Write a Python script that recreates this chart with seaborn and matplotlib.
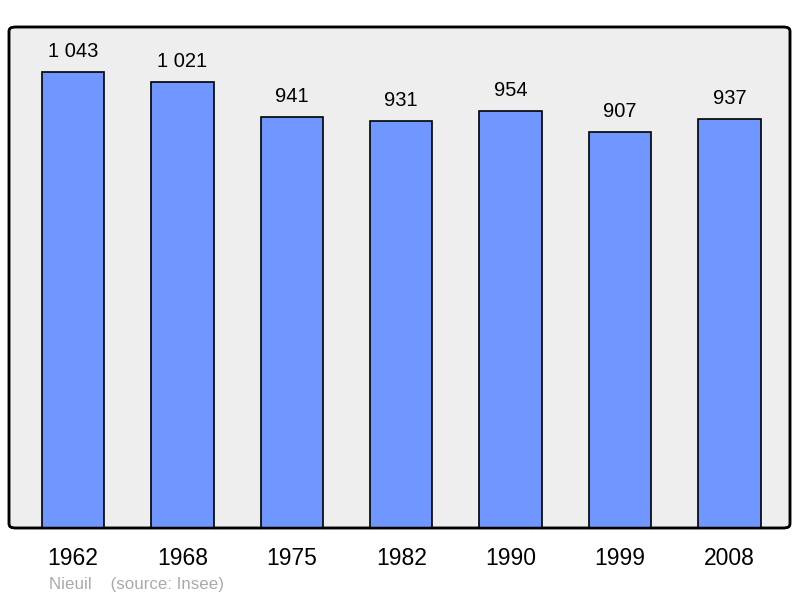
import matplotlib
matplotlib.use("Agg")
import matplotlib.pyplot as plt
from matplotlib.patches import FancyBboxPatch
import seaborn as sns
import pandas as pd

YEARS = ["1962", "1968", "1975", "1982", "1990", "1999", "2008"]
POPULATION = [1043, 1021, 941, 931, 954, 907, 937]
TITLE = "Nieuil    (source: Insee)"

BAR_COLOR = "#7096ff"
BG_COLOR = "#eeeeee"

sns.set_style("white")
plt.rcParams["font.family"] = ["Liberation Sans", "DejaVu Sans"]
plt.rcParams["text.color"] = "black"
plt.rcParams["xtick.color"] = "black"

df = pd.DataFrame({"year": YEARS, "pop": POPULATION})

fig = plt.figure(figsize=(8, 5.98), dpi=100)
ax = fig.add_axes([9 / 800, 70 / 598, 781 / 800, 501 / 598])

sns.barplot(data=df, x="year", y="pop", color=BAR_COLOR, edgecolor="black",
            linewidth=1.2, width=0.57, saturation=1, ax=ax)

# label with a space as thousands separator
labels = [f"{v:,}".replace(",", " ") for v in POPULATION]
ax.bar_label(ax.containers[0], labels=labels, padding=8, fontsize=14.5, color="black")

ax.set_xlim(-0.585, 6.553)
ax.set_ylim(0, 1147)
ax.set_xlabel("")
ax.set_ylabel("")
ax.set_yticks([])
ax.tick_params(axis="x", length=0, pad=14, labelsize=16.5, labelcolor="black")

# rounded frame
ax.set_facecolor("none")
for s in ax.spines.values():
    s.set_visible(False)
frame = FancyBboxPatch((0, 0), 1, 1, boxstyle="round,pad=0,rounding_size=0.008",
                       transform=ax.transAxes, facecolor=BG_COLOR, edgecolor="black",
                       linewidth=1.8, zorder=0, clip_on=False)
ax.add_patch(frame)
frame2 = FancyBboxPatch((0, 0), 1, 1, boxstyle="round,pad=0,rounding_size=0.008",
                        transform=ax.transAxes, facecolor="none", edgecolor="black",
                        linewidth=1.8, zorder=5, clip_on=False)
ax.add_patch(frame2)

fig.text(49 / 800, 1 - 589 / 598, TITLE, color="#aaaaaa", fontsize=12.2)

plt.savefig("out.png", dpi=100)
